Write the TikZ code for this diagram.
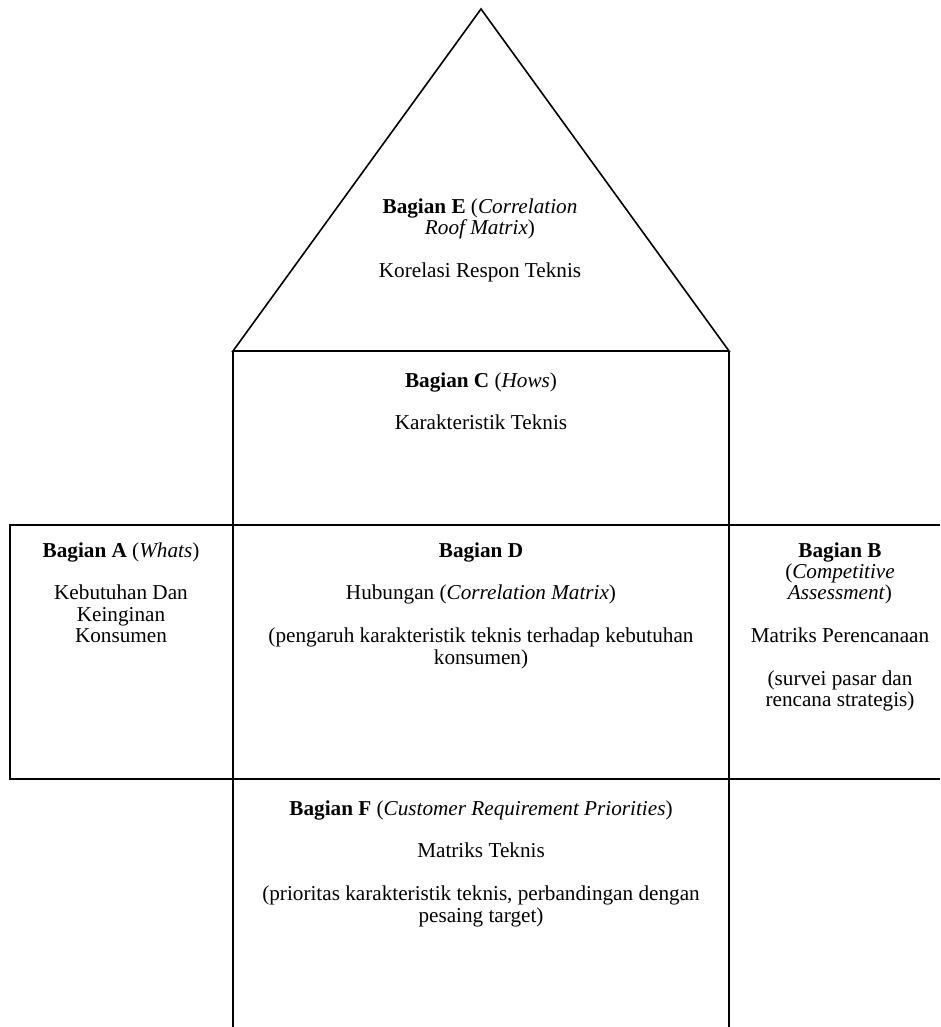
\documentclass[tikz,border=0pt]{standalone}
\usepackage{fontspec}
\setmainfont{Liberation Serif}
\begin{document}
\begin{tikzpicture}[x=1pt,y=-1pt,
  wall/.style={line width=1.6pt, line join=miter},
  % anchor=base sits on the last line of each block
  sect/.style={align=center, inner sep=0pt, anchor=base,
    font=\fontsize{21.2}{21.4}\selectfont}]
\useasboundingbox (0,0) rectangle (940,1027);

% frame points of the house
\coordinate (apex)  at (481,9);
\coordinate (roofL) at (233,351);
\coordinate (roofR) at (729,351);
\coordinate (colL)  at (233,1027);
\coordinate (colR)  at (729,1027);
\coordinate (rowTL) at (10,525);
\coordinate (rowTR) at (940,525);
\coordinate (rowBL) at (10,779);
\coordinate (rowBR) at (940,779);

% roof, columns and the middle row
\draw[wall] (roofL) -- (apex) -- (roofR) -- cycle;
\draw[wall] (roofL) -- (colL);
\draw[wall] (roofR) -- (colR);
\draw[wall] (rowTR) -- (rowTL) -- (rowBL) -- (rowBR);

% section texts
\node[sect] (sectE) at (480,277.2) {\textbf{Bagian E} (\textit{Correlation}\\ \textit{Roof Matrix})\\[21.4pt] Korelasi Respon Teknis};
\node[sect] (sectC) at (481,429.8) {\textbf{Bagian C} (\textit{Hows})\\[21.4pt] Karakteristik Teknis};
\node[sect] (sectA) at (121,642.6) {\textbf{Bagian A} (\textit{Whats})\\[21.4pt] Kebutuhan Dan\\ Keinginan\\ Konsumen};
\node[sect] (sectD) at (481,664) {\textbf{Bagian D}\\[21.4pt] Hubungan (\textit{Correlation Matrix})\\[21.4pt] (pengaruh karakteristik teknis terhadap kebutuhan\\ konsumen)};
\node[sect] (sectB) at (840,706.8) {\textbf{Bagian B}\\ (\textit{Competitive}\\ \textit{Assessment})\\[21.4pt] Matriks Perencanaan\\[21.4pt] (survei pasar dan\\ rencana strategis)};
\node[sect] (sectF) at (481,922) {\textbf{Bagian F} (\textit{Customer Requirement Priorities})\\[21.4pt] Matriks Teknis\\[21.4pt] (prioritas karakteristik teknis, perbandingan dengan\\ pesaing target)};
\end{tikzpicture}
\end{document}
